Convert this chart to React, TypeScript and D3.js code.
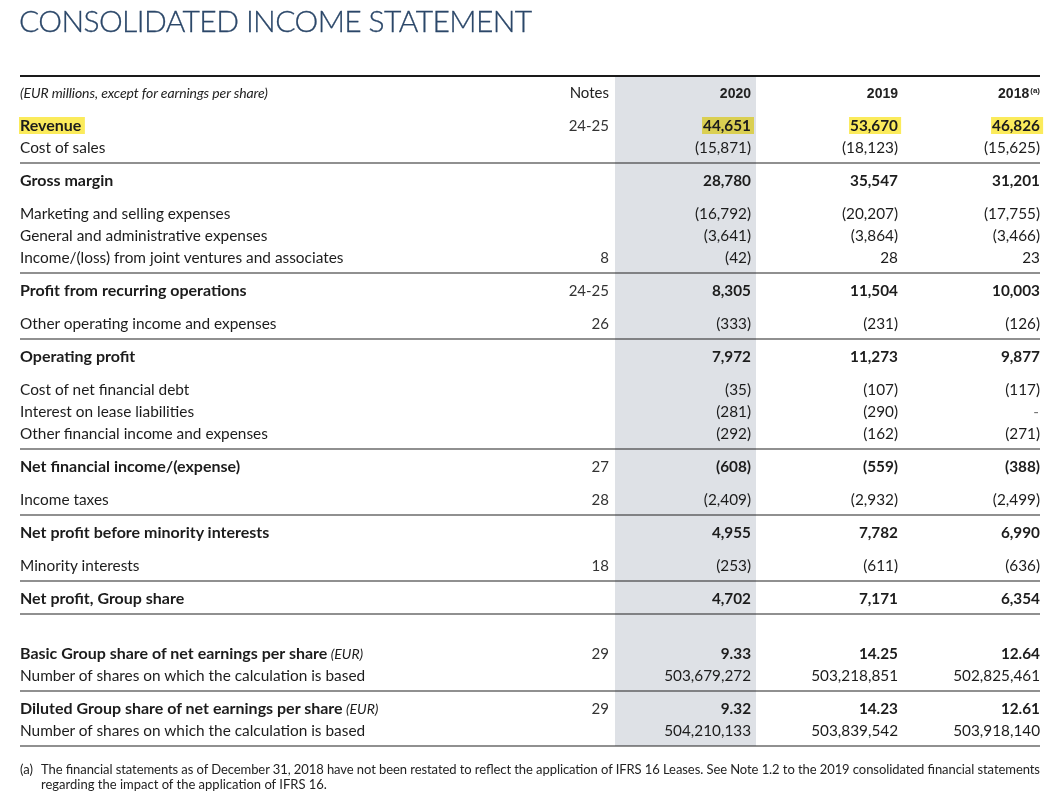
import React, { useEffect, useRef } from "react";
import * as d3 from "d3";

const title = "CONSOLIDATED INCOME STATEMENT";
const unitNote = "(EUR millions, except for earnings per share)";
const columns = ["Notes", "2020", "2019", "2018"];

const labels = [
  "Revenue",
  "Cost of sales",
  "Gross margin",
  "Marketing and selling expenses",
  "General and administrative expenses",
  "Income/(loss) from joint ventures and associates",
  "Profit from recurring operations",
  "Other operating income and expenses",
  "Operating profit",
  "Cost of net financial debt",
  "Interest on lease liabilities",
  "Other financial income and expenses",
  "Net financial income/(expense)",
  "Income taxes",
  "Net profit before minority interests",
  "Minority interests",
  "Net profit, Group share",
  "Basic Group share of net earnings per share",
  "Number of shares on which the calculation is based",
  "Diluted Group share of net earnings per share",
  "Number of shares on which the calculation is based",
];
const labelSuffix = ["", "", "", "", "", "", "", "", "", "", "", "", "", "", "", "", "", " (EUR)", "", " (EUR)", ""];
const notes = ["24-25", "", "", "", "", "8", "24-25", "26", "", "", "", "", "27", "28", "", "18", "", "29", "", "29", ""];
const v2020 = ["44,651", "(15,871)", "28,780", "(16,792)", "(3,641)", "(42)", "8,305", "(333)", "7,972", "(35)", "(281)", "(292)", "(608)", "(2,409)", "4,955", "(253)", "4,702", "9.33", "503,679,272", "9.32", "504,210,133"];
const v2019 = ["53,670", "(18,123)", "35,547", "(20,207)", "(3,864)", "28", "11,504", "(231)", "11,273", "(107)", "(290)", "(162)", "(559)", "(2,932)", "7,782", "(611)", "7,171", "14.25", "503,218,851", "14.23", "503,839,542"];
const v2018 = ["46,826", "(15,625)", "31,201", "(17,755)", "(3,466)", "23", "10,003", "(126)", "9,877", "(117)", "-", "(271)", "(388)", "(2,499)", "6,990", "(636)", "6,354", "12.64", "502,825,461", "12.61", "503,918,140"];
const boldRows = [1, 0, 1, 0, 0, 0, 1, 0, 1, 0, 0, 0, 1, 0, 1, 0, 1, 1, 0, 1, 0];
const highlightRows = [1, 0, 0, 0, 0, 0, 0, 0, 0, 0, 0, 0, 0, 0, 0, 0, 0, 0, 0, 0, 0];
// 0: same block, 1: section break, 2: big break
const breakAfter = [0, 1, 1, 0, 0, 1, 1, 1, 1, 0, 0, 1, 1, 1, 1, 1, 2, 0, 1, 0, 1];
const ruleAfter = [0, 1, 0, 0, 0, 1, 0, 1, 0, 0, 0, 1, 0, 1, 0, 1, 1, 0, 1, 0, 1];
const footnote = [
  "The financial statements as of December 31, 2018 have not been restated to reflect the application of IFRS 16 Leases. See Note 1.2 to the 2019 consolidated financial statements",
  "regarding the impact of the application of IFRS 16.",
];

const W = 1059;
const H = 798;
const FONT = "Lato, 'Noto Sans', sans-serif";

export default function App() {
  const ref = useRef<SVGSVGElement>(null);

  useEffect(() => {
    const svg = d3.select(ref.current);
    svg.selectAll("*").remove();

    const left = 20;
    const right = 1040;
    const colRight = d3.scaleOrdinal<string, number>().domain(columns).range([609, 751, 898, 1040]);

    // row positions
    const steps = [22, 33, 55];
    const rowY: number[] = [];
    let y = 125;
    labels.forEach((_, i) => {
      rowY.push(y);
      y += steps[breakAfter[i]];
    });

    const lastRule = rowY[rowY.length - 1] + 16;

    // shaded 2020 column
    svg.append("rect")
      .attr("x", 615).attr("y", 77)
      .attr("width", 141).attr("height", lastRule - 77)
      .attr("fill", "#dee1e6");

    // title
    svg.append("text")
      .attr("x", left - 1).attr("y", 32)
      .attr("font-family", FONT).attr("font-weight", 300)
      .attr("font-size", 30).attr("fill", "#2b4769")
      .attr("letter-spacing", -0.6)
      .attr("stroke", "#2b4769").attr("stroke-width", 0.3)
      .text(title);

    // top rule
    svg.append("line")
      .attr("x1", left).attr("x2", right).attr("y1", 76).attr("y2", 76)
      .attr("stroke", "#1a1a1a").attr("stroke-width", 2);

    // header
    svg.append("text")
      .attr("x", left).attr("y", 98)
      .attr("font-family", FONT).attr("font-style", "italic")
      .attr("font-size", 14).attr("fill", "#222")
      .attr("letter-spacing", -0.1)
      .text(unitNote);

    columns.forEach((c, ci) => {
      const t = svg.append("text")
        .attr("x", colRight(c)).attr("y", 98)
        .attr("text-anchor", "end")
        .attr("font-family", ci === 0 ? FONT : "'Liberation Sans', Arial, sans-serif")
        .attr("font-weight", ci === 0 ? 400 : 700)
        .attr("font-size", ci === 0 ? 15 : 14)
        .attr("fill", "#222");
      t.append("tspan").text(c);
      if (c === "2018") {
        t.append("tspan").attr("font-size", 8).attr("dy", -5).attr("dx", 1).text("(a)");
      }
    });

    const hl = svg.append("g").style("mix-blend-mode", "multiply");
    const g = svg.append("g");

    const rows = g.selectAll("g.row").data(labels).enter().append("g").attr("class", "row");

    rows.each(function (lab, i) {
      const r = d3.select(this);
      const base = rowY[i] + 5.5;
      const bold = !!boldRows[i];
      const texts: SVGTextElement[] = [];
      const t = r.append("text")
        .attr("x", left).attr("y", base)
        .attr("font-family", FONT)
        .attr("font-size", bold ? 16 : 15.4)
        .attr("font-weight", bold ? 700 : 400)
        .attr("fill", "#1c1c1c");
      t.append("tspan").text(lab);
      if (labelSuffix[i]) {
        t.append("tspan").attr("font-weight", 400).attr("font-style", "italic").attr("font-size", 14).text(labelSuffix[i]);
      }
      texts.push(t.node() as SVGTextElement);

      const vals = [notes[i], v2020[i], v2019[i], v2018[i]];
      vals.forEach((v, ci) => {
        if (!v) return;
        const vt = r.append("text")
          .attr("x", colRight(columns[ci]) + (v === "-" ? -1 : 0)).attr("y", base)
          .attr("text-anchor", "end")
          .attr("font-family", FONT)
          .attr("font-size", ci === 0 ? 15 : 15.3)
          .attr("font-weight", ci > 0 && bold ? 700 : 400)
          .attr("fill", ci === 0 ? "#333" : v === "-" ? "#777" : "#1c1c1c")
          .text(v);
        if (ci > 0) texts.push(vt.node() as SVGTextElement);
      });

      if (highlightRows[i]) {
        texts.forEach((node) => {
          const bb = node.getBBox();
          hl.append("rect")
            .attr("x", bb.x - 1).attr("y", rowY[i] - 8)
            .attr("width", bb.width + 4).attr("height", 17)
            .attr("fill", "#fbeb5b");
        });
      }

      if (ruleAfter[i]) {
        const ly = rowY[i] + 16;
        r.append("line")
          .attr("x1", left).attr("x2", right).attr("y1", ly).attr("y2", ly)
          .attr("stroke", "#222").attr("stroke-width", 1.2);
      }
    });

    // footnote
    const fy = lastRule + 28;
    svg.append("text")
      .attr("x", left).attr("y", fy)
      .attr("font-family", FONT).attr("font-size", 13).attr("fill", "#222")
      .text("(a)");
    footnote.forEach((line, k) => {
      svg.append("text")
        .attr("x", 41).attr("y", fy + k * 15)
        .attr("font-family", FONT).attr("font-size", 13).attr("fill", "#222")
        .attr("textLength", k === 0 ? 999 : null)
        .attr("lengthAdjust", "spacing")
        .text(line);
    });
  }, []);

  return <svg ref={ref} width={W} height={H} style={{ display: "block", position: "absolute", left: 0, top: 0, background: "#fff" }} />;
}
